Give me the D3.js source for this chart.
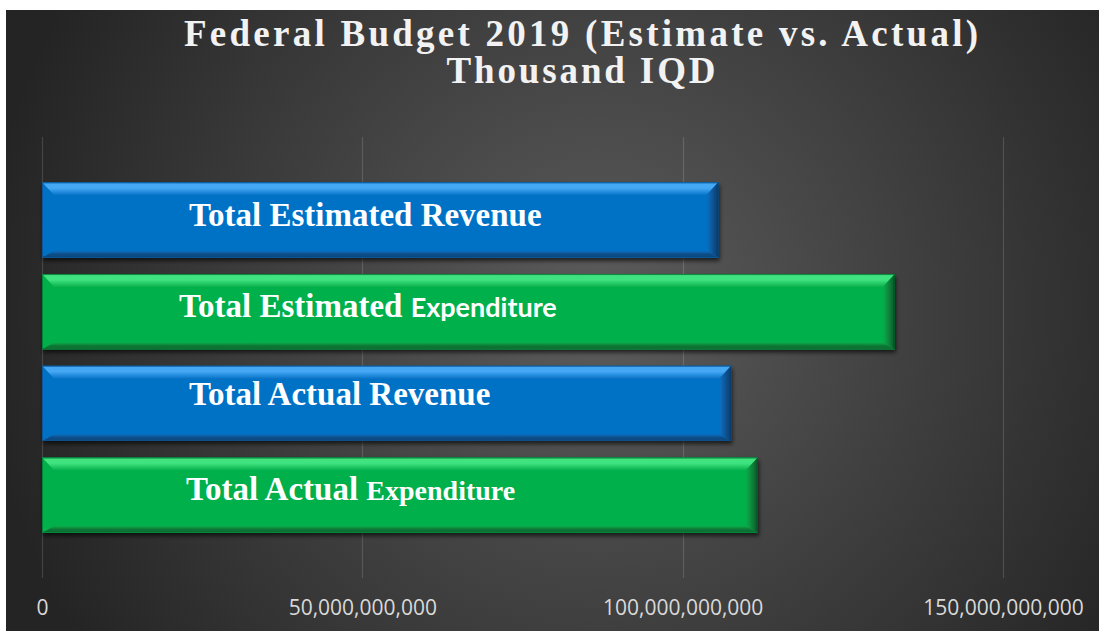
<!DOCTYPE html>
<html>
<head>
<meta charset="utf-8">
<script src="https://cdn.jsdelivr.net/npm/d3@7"></script>
<style>
  html, body { margin: 0; padding: 0; background: #ffffff; }
  svg { display: block; }
</style>
</head>
<body>
<svg id="chart" width="1099" height="631"></svg>
<script>
// Federal budget 2019, thousand IQD
const categories = [
  "Total Estimated Revenue",
  "Total Estimated Expenditure",
  "Total Actual Revenue",
  "Total Actual Expenditure"
];
const values = [105570000000, 133110000000, 107570000000, 111720000000];
const kinds = ["revenue", "expenditure", "revenue", "expenditure"];
const tickValues = [0, 50000000000, 100000000000, 150000000000];
const tickLabels = ["0", "50,000,000,000", "100,000,000,000", "150,000,000,000"];
const titleLines = ["Federal Budget 2019 (Estimate vs. Actual)", "Thousand IQD"];

// Label text pieces: the word "Expenditure" is set in a different face
const labelParts = [
  [{ t: "Total Estimated Revenue", f: "serif" }],
  [{ t: "Total Estimated ", f: "serif" }, { t: "Expenditure", f: "sans" }],
  [{ t: "Total Actual Revenue", f: "serif" }],
  [{ t: "Total Actual ", f: "serif" }, { t: "Expenditure", f: "serifSmall" }]
];

// ---- layout / style ----
const W = 1099, H = 631;
const panel = { x: 6, y: 10, w: 1093, h: 621 };
const plot = { left: 42, right: 1003, top: 137, bottom: 578 };
const labelOffset = [147, 137, 147, 144];   // label start, px right of the axis
const labelDy = [6, 5, 2, 5];

const palette = {
  revenue:     { main: "#0672c6", light: "#45a8f5", dark: "#0b4b85", edge: "#083a66" },
  expenditure: { main: "#06b04c", light: "#3fe37f", dark: "#0a7334", edge: "#064f23" }
};
const faces = {
  serif:      { family: "'Liberation Serif', 'Times New Roman', serif", size: 33, weight: 700 },
  sans:       { family: "Lato, 'Open Sans', sans-serif", size: 27, weight: 700 },
  serifSmall: { family: "'Liberation Serif', 'Times New Roman', serif", size: 28, weight: 700 }
};

const svg = d3.select("#chart");
const defs = svg.append("defs");

// background: soft radial light in the middle of a charcoal panel
const bg = defs.append("radialGradient")
  .attr("id", "bgGrad").attr("gradientUnits", "userSpaceOnUse")
  .attr("cx", 600).attr("cy", 310).attr("r", 620);
bg.append("stop").attr("offset", "0%").attr("stop-color", "#5c5c5c");
bg.append("stop").attr("offset", "55%").attr("stop-color", "#3d3d3d");
bg.append("stop").attr("offset", "100%").attr("stop-color", "#242424");

svg.append("rect")
  .attr("x", panel.x).attr("y", panel.y)
  .attr("width", panel.w).attr("height", panel.h)
  .attr("fill", "url(#bgGrad)");

// drop shadow for bars
const sh = defs.append("filter").attr("id", "barShadow")
  .attr("x", "-5%").attr("y", "-20%").attr("width", "110%").attr("height", "150%");
sh.append("feDropShadow").attr("dx", 1).attr("dy", 3).attr("stdDeviation", 2)
  .attr("flood-color", "#000").attr("flood-opacity", 0.65);

// bevel gradients per colour
function linGrad(id, x2, y2, stops) {
  const g = defs.append("linearGradient").attr("id", id)
    .attr("x1", 0).attr("y1", 0).attr("x2", x2).attr("y2", y2);
  stops.forEach(([o, c]) => g.append("stop").attr("offset", o).attr("stop-color", c));
}
Object.entries(palette).forEach(([k, p]) => {
  linGrad(`top-${k}`, 0, 1, [["0%", p.main], ["12%", p.light], ["45%", p.light], ["100%", p.main]]);
  linGrad(`bot-${k}`, 0, 1, [["0%", p.main], ["55%", p.dark], ["85%", p.dark], ["100%", p.main]]);
  linGrad(`left-${k}`, 1, 0, [["0%", p.main], ["100%", p.main]]);
  linGrad(`right-${k}`, 1, 0, [["0%", p.main], ["70%", p.dark], ["100%", p.edge]]);
});

// scales
const x = d3.scaleLinear().domain([0, 150000000000]).range([plot.left, plot.right]);
const y = d3.scaleBand().domain(categories).range([plot.top, plot.bottom])
  .paddingInner(0.18).paddingOuter(0.494);

// vertical gridlines
svg.append("g").selectAll("line").data(tickValues).join("line")
  .attr("x1", d => Math.round(x(d)) + 0.5).attr("x2", d => Math.round(x(d)) + 0.5)
  .attr("y1", plot.top).attr("y2", plot.bottom)
  .attr("stroke", "#ffffff").attr("stroke-opacity", 0.14).attr("stroke-width", 1.2);

// x axis tick labels
const xAxis = d3.axisBottom(x).tickValues(tickValues)
  .tickFormat((d, i) => tickLabels[i]).tickSize(0).tickPadding(0);
const axisG = svg.append("g").attr("transform", `translate(0, ${plot.bottom + 22})`).call(xAxis);
axisG.select(".domain").remove();
axisG.selectAll("text")
  .attr("fill", "#d9d9d9")
  .attr("font-family", "'Open Sans', 'Noto Sans', sans-serif")
  .attr("font-size", 21)
  .attr("dy", "0.71em");

// bars with bevelled faces
const bt = 13, bb = 7, bl = 12, br = 12;
const bars = svg.append("g").selectAll("g.bar")
  .data(categories.map((c, i) => ({ c, v: values[i], k: kinds[i], i })))
  .join("g").attr("class", "bar").attr("filter", "url(#barShadow)");

bars.each(function (d) {
  const g = d3.select(this);
  const x0 = x(0), x1 = x(d.v), y0 = y(d.c), y1 = y(d.c) + y.bandwidth();
  const p = palette[d.k];
  const poly = pts => pts.map(q => q.join(",")).join(" ");
  g.append("rect").attr("x", x0).attr("y", y0).attr("width", x1 - x0).attr("height", y1 - y0)
    .attr("fill", p.main);
  g.append("polygon").attr("points", poly([[x0, y0], [x1, y0], [x1 - br, y0 + bt], [x0 + bl, y0 + bt]]))
    .attr("fill", `url(#top-${d.k})`);
  g.append("polygon").attr("points", poly([[x0, y1], [x1, y1], [x1 - br, y1 - bb], [x0 + bl, y1 - bb]]))
    .attr("fill", `url(#bot-${d.k})`);
  g.append("polygon").attr("points", poly([[x0, y0], [x0 + bl, y0 + bt], [x0 + bl, y1 - bb], [x0, y1]]))
    .attr("fill", `url(#left-${d.k})`);
  g.append("polygon").attr("points", poly([[x1, y0], [x1 - br, y0 + bt], [x1 - br, y1 - bb], [x1, y1]]))
    .attr("fill", `url(#right-${d.k})`);
  g.append("rect").attr("x", x0 + 0.5).attr("y", y0 + 0.5)
    .attr("width", x1 - x0 - 1).attr("height", y1 - y0 - 1)
    .attr("fill", "none").attr("stroke", p.edge).attr("stroke-opacity", 0.45).attr("stroke-width", 1);
});

// category labels inside the bars
const labels = svg.append("g").selectAll("text")
  .data(categories.map((c, i) => ({ c, i })))
  .join("text")
  .attr("x", d => x(0) + labelOffset[d.i])
  .attr("y", d => y(d.c) + y.bandwidth() / 2 + labelDy[d.i])
  .attr("fill", "#ffffff");
labels.each(function (d) {
  const t = d3.select(this);
  labelParts[d.i].forEach(part => {
    const f = faces[part.f];
    t.append("tspan").text(part.t)
      .attr("font-family", f.family).attr("font-size", f.size).attr("font-weight", f.weight)
      .attr("style", "white-space: pre");
  });
});

// title
const titleWidths = [794, 269];
svg.append("g").selectAll("text").data(titleLines).join("text")
  .attr("x", 581)
  .attr("y", (d, i) => 46 + i * 37)
  .attr("text-anchor", "middle")
  .attr("font-family", "'Liberation Serif', 'Times New Roman', serif")
  .attr("font-weight", 700)
  .attr("font-size", 37)
  .attr("fill", "#f2f2f2")
  .attr("textLength", (d, i) => titleWidths[i])
  .attr("lengthAdjust", "spacing")
  .text(d => d);
</script>
</body>
</html>
